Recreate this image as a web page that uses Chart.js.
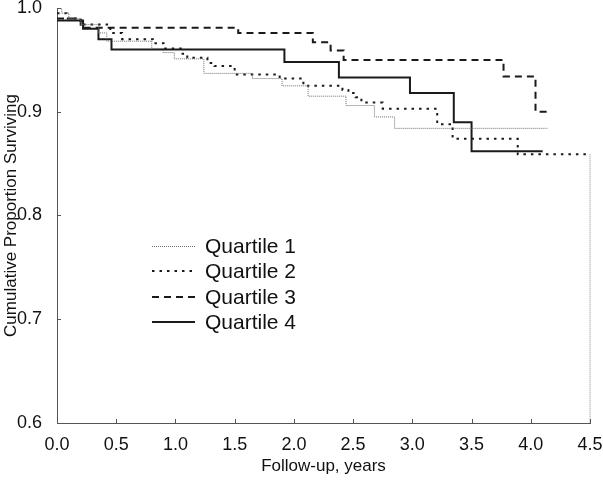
<!DOCTYPE html>
<html>
<head>
<meta charset="utf-8">
<script src="https://cdn.jsdelivr.net/npm/chart.js@4.4.1/dist/chart.umd.min.js"></script>
<style>
html,body{margin:0;padding:0;background:#fff;}
#wrap{width:603px;height:481px;position:relative;}
</style>
</head>
<body>
<div id="wrap"><canvas id="c" width="603" height="481"></canvas></div>
<script>
// Data (time in years, cumulative proportion surviving)
const xTicks = [0.0, 0.5, 1.0, 1.5, 2.0, 2.5, 3.0, 3.5, 4.0, 4.5];
const yTicks = [0.6, 0.7, 0.8, 0.9, 1.0];
const seriesNames = ['Quartile 1', 'Quartile 2', 'Quartile 3', 'Quartile 4'];

const q1Time = [0, 0.04, 0.10, 0.20, 0.35, 0.42, 0.80, 0.895, 0.99, 1.24, 1.65, 1.90, 2.12, 2.44, 2.68, 2.85, 4.14];
const q1Surv = [1.0, 0.995, 0.990, 0.984, 0.976, 0.968, 0.961, 0.957, 0.951, 0.937, 0.932, 0.925, 0.915, 0.906, 0.895, 0.884, 0.884];

const q2Time = [0, 0.08, 0.20, 0.45, 0.55, 0.81, 0.90, 1.06, 1.10, 1.27, 1.33, 1.50, 1.88, 2.08, 2.41, 2.46, 2.52, 2.57, 2.75, 3.21, 3.34, 3.89, 4.50];
const q2Surv = [0.995, 0.990, 0.984, 0.976, 0.970, 0.966, 0.961, 0.956, 0.952, 0.947, 0.944, 0.936, 0.932, 0.925, 0.921, 0.918, 0.914, 0.909, 0.903, 0.888, 0.874, 0.859, 0.859];

const q3Time = [0, 0.20, 1.53, 2.16, 2.31, 2.42, 3.77, 4.04, 4.16];
const q3Surv = [0.990, 0.981, 0.976, 0.967, 0.959, 0.950, 0.934, 0.900, 0.900];

const q4Time = [0, 0.22, 0.35, 0.46, 1.92, 2.38, 2.98, 3.35, 3.50, 4.10];
const q4Surv = [0.988, 0.980, 0.970, 0.960, 0.948, 0.933, 0.918, 0.890, 0.862, 0.862];

// final drop at the end of the longest follow-up
const tailTime = [4.50, 4.50];
const tailSurv = [0.859, 0.600];

const toPts = (t, s) => t.map((v, i) => ({x: v, y: s[i]}));

const FONT = "'Liberation Sans', Arial, sans-serif";

const styles = [
  {color: '#6e6e6e', width: 1, dash: [1, 1]},
  {color: '#1a1a1a', width: 2, dash: [2.5, 5]},
  {color: '#1a1a1a', width: 2, dash: [7, 5]},
  {color: '#1a1a1a', width: 2, dash: []}
];

const datasets = [
  {label: seriesNames[0], data: toPts(q1Time, q1Surv)},
  {label: seriesNames[1], data: toPts(q2Time, q2Surv)},
  {label: seriesNames[2], data: toPts(q3Time, q3Surv)},
  {label: seriesNames[3], data: toPts(q4Time, q4Surv)},
  {label: 'tail', data: toPts(tailTime, tailSurv), clip: false}
].map((d, i) => {
  const st = styles[i < 4 ? i : 0];
  return Object.assign(d, {
    borderColor: i < 4 ? st.color : '#8a8a8a', borderWidth: st.width, borderDash: st.dash,
    stepped: 'before', pointRadius: 0, fill: false, tension: 0,
    borderCapStyle: 'butt'
  });
});

const innerTicks = {
  id: 'innerTicks',
  afterDraw(chart) {
    const ctx = chart.ctx, xs = chart.scales.x, ys = chart.scales.y;
    const a = chart.chartArea;
    ctx.save();
    ctx.strokeStyle = '#555';
    ctx.lineWidth = 1;
    ctx.beginPath();
    xTicks.forEach(v => {
      const px = Math.round(xs.getPixelForValue(v)) + 0.5;
      ctx.moveTo(px, a.bottom); ctx.lineTo(px, a.bottom - 4);
    });
    yTicks.forEach(v => {
      const py = Math.round(ys.getPixelForValue(v)) + 0.5;
      ctx.moveTo(a.left, py); ctx.lineTo(a.left + 4, py);
    });
    ctx.stroke();
    ctx.restore();
  }
};

const innerLegend = {
  id: 'innerLegend',
  afterDraw(chart) {
    const ctx = chart.ctx;
    const rows = [246, 271, 297, 322];
    ctx.save();
    seriesNames.forEach((name, i) => {
      const st = styles[i];
      ctx.beginPath();
      ctx.strokeStyle = st.color;
      ctx.lineWidth = st.width;
      ctx.setLineDash(st.dash);
      const y = rows[i] + (st.width % 2 ? 0.5 : 0);
      ctx.moveTo(152, y); ctx.lineTo(195, y);
      ctx.stroke();
      ctx.setLineDash([]);
      ctx.fillStyle = '#111';
      ctx.font = '21px ' + FONT;
      ctx.textBaseline = 'middle';
      ctx.textAlign = 'left';
      ctx.fillText(name, 205, rows[i] + 1);
    });
    ctx.restore();
  }
};

new Chart(document.getElementById('c'), {
  type: 'line',
  data: {datasets},
  plugins: [innerTicks, innerLegend],
  options: {
    responsive: false,
    animation: false,
    devicePixelRatio: 1,
    layout: {padding: {left: 0, right: 13, top: 8, bottom: 0}},
    plugins: {legend: {display: false}, tooltip: {enabled: false}},
    scales: {
      x: {
        type: 'linear', min: 0, max: 4.5,
        afterBuildTicks: s => { s.ticks = xTicks.map(v => ({value: v})); },
        afterFit: s => { s.height = 58; s.paddingLeft = 0; s.paddingRight = 0; },
        grid: {display: false},
        border: {display: true, color: '#555', width: 1},
        ticks: {
          callback: v => Number(v).toFixed(1),
          font: {family: FONT, size: 18}, color: '#111', padding: 3,
          maxRotation: 0, autoSkip: false
        },
        title: {display: true, text: 'Follow-up, years', font: {family: FONT, size: 17}, color: '#111', padding: {top: 0, bottom: 4}}
      },
      y: {
        type: 'linear', min: 0.6, max: 1.0,
        afterBuildTicks: s => { s.ticks = yTicks.map(v => ({value: v})); },
        afterFit: s => { s.width = 57; s.paddingTop = 0; s.paddingBottom = 0; },
        grid: {display: false},
        border: {display: true, color: '#555', width: 1},
        ticks: {
          callback: v => Number(v).toFixed(1),
          font: {family: FONT, size: 18}, color: '#111', padding: 7
        },
        title: {display: true, text: 'Cumulative Proportion Surviving', font: {family: FONT, size: 17}, color: '#111', padding: {top: 1, bottom: 0}}
      }
    }
  }
});
</script>
</body>
</html>
